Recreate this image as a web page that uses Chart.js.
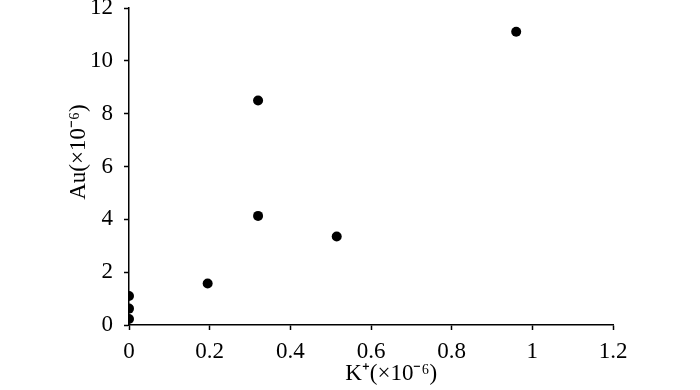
<!doctype html>
<html lang="en">
	<head>
		<meta charset="utf-8">
		<title>Au vs K+</title>
		<style>
			html, body {
			margin: 0;
			padding: 0;
			background: #ffffff;
			}
			.chart-container {
			width: 700px;
			height: 390px;
			}
		</style>
		<script src="https://cdn.jsdelivr.net/npm/chart.js@4"></script>
	</head>
	<body>
		<div class="chart-container">
			<canvas id="scatterChart"></canvas>
		</div>
		<script>
			// K+ (x10^-6) and Au (x10^-6)
			const kValues  = [0, 0, 0, 0.195, 0.32, 0.32, 0.515, 0.96];
			const auValues = [1.1, 0.62, 0.23, 1.57, 8.5, 4.13, 3.35, 11.1];
			const xTicks = [0, 0.2, 0.4, 0.6, 0.8, 1, 1.2];
			const yTicks = [0, 2, 4, 6, 8, 10, 12];
			const xTitle = 'K\u207A(\u00D710\u207B\u2076)';
			const yTitle = 'Au(\u00D710\u207B\u2076)';

			const fontFamily = "'Liberation Serif', 'Times New Roman', serif";
			const axisColour = '#000000';

			var points = [];
			kValues.forEach((k, i) => {
				points.push({x: k, y: auValues[i]});
			});

			var axisOptions = function (ticks, titleText) {
				return {
					type: 'linear',
					min: ticks[0],
					max: ticks[ticks.length - 1],
					afterBuildTicks: axis => {
						axis.ticks = ticks.map(v => ({value: v}));
					},
					border: {
						display: true,
						color: axisColour,
						width: 1.5
					},
					grid: {
						display: true,
						drawOnChartArea: false,
						drawTicks: true,
						tickLength: 5,
						tickWidth: 1.5,
						tickColor: axisColour
					},
					ticks: {
						color: axisColour,
						padding: 14,
						font: {family: fontFamily, size: 23, lineHeight: 0.7},
						callback: v => String(v)
					},
					title: {
						display: true,
						text: titleText,
						color: axisColour,
						font: {family: fontFamily, size: 23},
						padding: {top: 0, bottom: 2}
					}
				};
			};

			// titles sit a little off the middle of the axis in the original
			var xAxis = axisOptions(xTicks, '       ' + xTitle);
			var yAxis = axisOptions(yTicks, '     ' + yTitle);
			xAxis.afterFit = axis => {
				axis.height = 65;
			};
			yAxis.ticks.padding = 11;
			yAxis.title.padding = 0;
			yAxis.afterFit = axis => {
				// fixed width so the plot starts where the original does
				axis.width = 64;
				axis.paddingTop = 8;
				axis.paddingBottom = 0;
			};

			new Chart(document.getElementById('scatterChart'), {
				type: 'scatter',
				data: {
					datasets: [{
						label: 'Au',
						data: points,
						pointRadius: 5,
						pointHoverRadius: 5,
						pointBackgroundColor: '#000000',
						pointBorderColor: '#000000',
						pointBorderWidth: 0
					}]
				},
				options: {
					animation: false,
					responsive: true,
					maintainAspectRatio: false,
					layout: {
						padding: {left: 65, right: 87, top: 0, bottom: 0}
					},
					plugins: {
						legend: {display: false},
						title: {display: false},
						tooltip: {enabled: false}
					},
					scales: {
						x: xAxis,
						y: yAxis
					}
				}
			});
		</script>
	</body>
</html>
